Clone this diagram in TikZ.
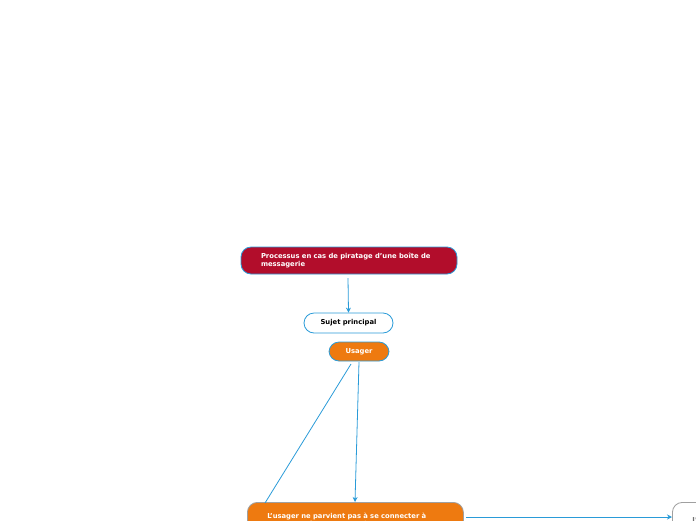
\documentclass[tikz,border=0pt]{standalone}
\usepackage{fontspec}
\setmainfont{DejaVu Sans}
\usetikzlibrary{positioning, arrows.meta}
\definecolor{rouge}{HTML}{B20D2B}
\definecolor{orange}{HTML}{EE7A10}
\definecolor{bleu}{HTML}{2A9BD8}
\definecolor{gris}{HTML}{A0A0A0}

\begin{document}
\begin{tikzpicture}[x=1pt, y=-1pt,
    sujet/.style={rounded corners=10pt, draw=bleu, line width=0.8pt, font=\bfseries\fontsize{6.8}{8.5}\selectfont, inner sep=0pt, align=left},
    lien/.style={draw=bleu, line width=0.8pt},
    fleche/.style={lien, -{Stealth[length=5pt,width=5pt]}}]
  \useasboundingbox (0,0) rectangle (696,520);
  \clip (0,0) rectangle (696,520);
  % titre
  \node[sujet, fill=rouge, text=white, minimum width=216pt, minimum height=27pt,
        text width=176pt] (titre) at (349,260.5)
        {\raggedright Processus en cas de piratage d'une boîte de messagerie};
  \node[sujet, fill=white, minimum width=89pt, minimum height=20pt, align=center] (principal) at (348.5,323) {Sujet principal};
  \node[sujet, fill=orange, text=white, minimum width=60pt, minimum height=19pt, align=center] (usager) at (359,351.5) {Usager};
  % branche du bas
  \node[sujet, draw=gris, fill=orange, text=white, minimum width=216pt, minimum height=36pt,
        text width=176pt, anchor=north west] (connexion) at (247,502)
        {\raggedright L'usager ne parvient pas à se connecter à METISS ou à sa messagerie\\[10pt]};
  \node[sujet, draw=gris, fill=white, text=gris!70!black, minimum width=100pt, minimum height=36pt,
        text width=60pt, anchor=north west] (suite) at (672,502)
        {\raggedright L'usager\\[10pt]};
  \draw[fleche] (348,278) -- (principal.north);
  \draw[fleche] (359,362) -- (355,502);
  \draw[lien] (351,364) -- (265,503);
  \draw[fleche] (466,517) -- (suite.west |- 0,517);
\end{tikzpicture}
\end{document}
